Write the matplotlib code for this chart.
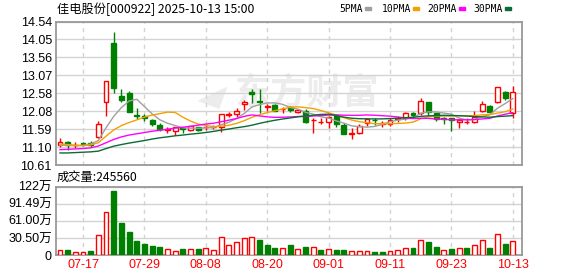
import numpy as np
import pandas as pd
import matplotlib
matplotlib.use('Agg')
import matplotlib.pyplot as plt
from matplotlib.patches import Rectangle

# 交易日 (2025-07-14 ~ 2025-10-13)
dates = ['07-14', '07-15', '07-16', '07-17', '07-18', '07-21', '07-22', '07-23', '07-24', '07-25',
         '07-28', '07-29', '07-30', '07-31', '08-01', '08-04', '08-05', '08-06', '08-07', '08-08',
         '08-11', '08-12', '08-13', '08-14', '08-15', '08-18', '08-19', '08-20', '08-21', '08-22',
         '08-25', '08-26', '08-27', '08-28', '08-29', '09-01', '09-02', '09-03', '09-04', '09-05',
         '09-08', '09-09', '09-10', '09-11', '09-12', '09-15', '09-16', '09-17', '09-18', '09-19',
         '09-22', '09-23', '09-24', '09-25', '09-26', '09-29', '09-30', '10-09', '10-10', '10-13']

opens = [11.15, 11.23, 11.16, 11.20, 11.22, 11.38, 12.33, 13.96, 12.50, 12.58,
         11.99, 11.96, 11.85, 11.71, 11.57, 11.54, 11.62, 11.58, 11.64, 11.64,
         11.64, 11.66, 11.98, 12.01, 12.27, 12.62, 12.37, 12.21, 12.24, 12.13,
         12.19, 12.06, 12.10, 11.83, 11.78, 11.80, 11.94, 11.70, 11.46, 11.49,
         11.75, 11.85, 11.74, 11.73, 11.86, 11.89, 12.03, 12.03, 12.33, 12.03,
         11.91, 11.89, 11.78, 11.79, 11.80, 12.10, 12.23, 12.33, 12.62, 12.03]
highs = [11.34, 11.26, 11.25, 11.25, 11.26, 11.81, 12.90, 14.24, 12.70, 12.64,
         12.17, 12.02, 11.88, 11.75, 11.64, 11.65, 11.66, 11.69, 11.66, 11.72,
         11.70, 12.01, 12.05, 12.16, 12.39, 12.68, 12.69, 12.27, 12.27, 12.21,
         12.23, 12.13, 12.14, 11.89, 11.90, 11.95, 11.96, 11.75, 11.63, 11.72,
         11.90, 11.91, 11.81, 11.89, 11.94, 12.05, 12.07, 12.45, 12.34, 12.04,
         11.93, 11.90, 11.89, 11.90, 12.09, 12.35, 12.24, 12.75, 12.65, 12.76]
lows = [11.11, 11.02, 11.08, 11.14, 11.11, 11.36, 11.96, 12.57, 12.33, 12.05,
        11.87, 11.82, 11.68, 11.53, 11.50, 11.43, 11.48, 11.54, 11.55, 11.57,
        11.59, 11.52, 11.92, 11.92, 12.12, 12.32, 12.04, 12.08, 12.09, 12.03,
        12.07, 12.03, 11.76, 11.49, 11.73, 11.63, 11.66, 11.46, 11.33, 11.47,
        11.69, 11.71, 11.66, 11.69, 11.80, 11.84, 11.90, 11.98, 11.94, 11.81,
        11.72, 11.55, 11.61, 11.72, 11.76, 12.07, 12.05, 12.30, 12.39, 11.91]
closes = [11.24, 11.15, 11.17, 11.19, 11.17, 11.72, 12.90, 12.73, 12.39, 12.07,
          11.96, 11.91, 11.72, 11.59, 11.59, 11.64, 11.60, 11.67, 11.57, 11.66,
          11.66, 12.00, 12.00, 12.10, 12.34, 12.55, 12.33, 12.23, 12.10, 12.15,
          12.11, 12.12, 11.78, 11.85, 11.80, 11.93, 11.73, 11.47, 11.48, 11.69,
          11.86, 11.83, 11.76, 11.84, 11.89, 12.03, 11.99, 12.37, 12.05, 11.87,
          11.88, 11.84, 11.84, 11.80, 11.93, 12.28, 12.07, 12.74, 12.44, 12.62]

# 成交量 (万手)
volumes = [8.4, 9.0, 4.8, 4.8, 7.0, 35.0, 76.0, 114.0, 57.0, 41.0,
           25.0, 19.6, 16.0, 14.3, 10.0, 6.5, 10.7, 10.7, 10.7, 12.0,
           8.3, 31.5, 17.0, 22.6, 29.7, 31.5, 26.7, 17.8, 12.5, 12.0,
           17.8, 10.0, 14.3, 13.7, 9.0, 10.0, 9.0, 9.0, 6.5, 6.5,
           6.5, 5.4, 5.4, 6.5, 8.3, 12.0, 12.5, 26.0, 23.0, 14.3,
           9.0, 10.7, 12.0, 12.5, 17.0, 26.0, 12.5, 37.0, 19.6, 24.556]

# 均线开头部分 (依赖窗口之前的数据, 从图上读取)
ma5_head = [11.15, 11.15, 11.14, 11.15]
ma10_head = [11.18, 11.17, 11.15, 11.14, 11.16, 11.22, 11.40, 11.57, 11.69]
ma20_head = [11.03, 11.04, 11.05, 11.06, 11.08, 11.13, 11.22, 11.31, 11.38, 11.43,
             11.465, 11.50, 11.535, 11.56, 11.59, 11.62, 11.645, 11.67, 11.70]
ma30_head = [10.94, 10.94, 10.95, 10.96, 10.97, 10.99, 11.06, 11.125, 11.17, 11.21,
             11.245, 11.28, 11.32, 11.355, 11.38, 11.41, 11.43, 11.455, 11.475, 11.50,
             11.53, 11.565, 11.595, 11.63, 11.66, 11.70, 11.75, 11.795, 11.835]

price_ticks = [10.61, 11.10, 11.59, 12.08, 12.58, 13.07, 13.56, 14.05, 14.54]
vol_ticks = [0, 30.50, 61.00, 91.49, 122]
vol_tick_labels = ['0', '30.50万', '61.00万', '91.49万', '122万']

RED = '#ff0000'
GREEN = '#008000'
GRID = '#d3d3d3'
FRAME = '#999999'
CJK = ['Noto Sans CJK SC', 'DejaVu Sans']
NUM = ['Liberation Sans', 'Noto Sans CJK SC']

close_s = pd.Series(closes)


def moving_avg(head, n):
    return head + close_s.rolling(n).mean().iloc[n - 1:].tolist()


o = np.array(opens)
h = np.array(highs)
l = np.array(lows)
c = np.array(closes)
x = np.arange(len(c))
up = c >= o
prev = np.concatenate([[o[0]], c[:-1]])
vol_up = c >= prev

fig = plt.figure(figsize=(5.78, 2.76), dpi=100)
ax = fig.add_axes([56 / 578, 1 - 165 / 276, 466 / 578, 143.5 / 276])
axv = fig.add_axes([56 / 578, 1 - 255 / 276, 466 / 578, 68.3 / 276])

w = 0.64
for a in (ax, axv):
    a.set_xlim(-0.52, 60.2)
    a.set_axisbelow(True)
    for s in a.spines.values():
        s.set_color(FRAME)
        s.set_linewidth(1.3)
    a.tick_params(length=0, labelsize=9, pad=3)
    a.grid(axis='y', color=GRID, lw=1)
    for t in x[3::8]:
        a.axvline(t, color=GRID, lw=1, ls=(0, (3, 3)), zorder=0.5)

# K线
top = np.maximum(o, c)
bot = np.minimum(o, c)
body = np.maximum(top - bot, 0.004)
cols = np.where(up, RED, GREEN)
ax.vlines(x, bot, l, color=cols, lw=1, zorder=2)
ax.vlines(x, top, h, color=cols, lw=1, zorder=2)
ax.bar(x, body, w, bottom=bot, color=np.where(up, 'white', GREEN),
       edgecolor=cols, lw=1, zorder=3)

ax.plot(x, moving_avg(ma5_head, 5), color='#a0a0a0', lw=1, zorder=4)
ax.plot(x, moving_avg(ma10_head, 10), color='#f5a000', lw=1, zorder=4)
ax.plot(x, moving_avg(ma20_head, 20), color='#ff00ff', lw=1, zorder=4)
ax.plot(x, moving_avg(ma30_head, 30), color='#0a6b35', lw=1, zorder=4)

ax.set_ylim(10.61, 14.54)
ax.set_yticks(price_ticks)
ax.set_yticklabels(['%.2f' % v for v in price_ticks], family=NUM, fontsize=9)
ax.set_xticks([])

# 水印
ax.text(0.54, 0.5, '东方财富', transform=ax.transAxes, fontsize=26, family=CJK,
        fontweight='bold', color='#ececec', ha='center', va='center', zorder=0)
ax.text(0.335, 0.5, '◢', transform=ax.transAxes, fontsize=22, family=['DejaVu Sans'],
        color='#ececec', ha='center', va='center', zorder=0, rotation=-20)

# 成交量
vcols = np.where(vol_up, RED, GREEN)
axv.bar(x, volumes, w, color=np.where(vol_up, 'white', GREEN), edgecolor=vcols,
        lw=1, zorder=3)
axv.set_ylim(0, 122)
axv.set_yticks(vol_ticks)
axv.set_yticklabels(vol_tick_labels, family=NUM, fontsize=9)
axv.set_xticks(x[3::8])
axv.set_xticklabels(np.array(dates)[3::8], color=RED, family=NUM, fontsize=9)

fig.text(57 / 578, 1 - 9 / 276, '佳电股份[000922] 2025-10-13 15:00', family=CJK,
         fontsize=8.8, va='center', ha='left')
fig.text(57 / 578, 1 - 177 / 276, '成交量:%d' % round(volumes[-1] * 10000), family=CJK,
         fontsize=8.8, va='center', ha='left')

legend = [('5PMA', '#a0a0a0', 365), ('10PMA', '#f5a000', 413),
          ('20PMA', '#ff00ff', 459), ('30PMA', '#0a6b35', 505)]
for name, col, px in legend:
    fig.text((px - 2) / 578, 1 - 9 / 276, name, family=['DejaVu Sans Mono'],
             fontsize=7, va='center', ha='right')
    fig.add_artist(Rectangle((px / 578, (276 - 10) / 276), 6 / 578, 2.5 / 276,
                             transform=fig.transFigure, color=col))

fig.savefig('out.png', dpi=100)
